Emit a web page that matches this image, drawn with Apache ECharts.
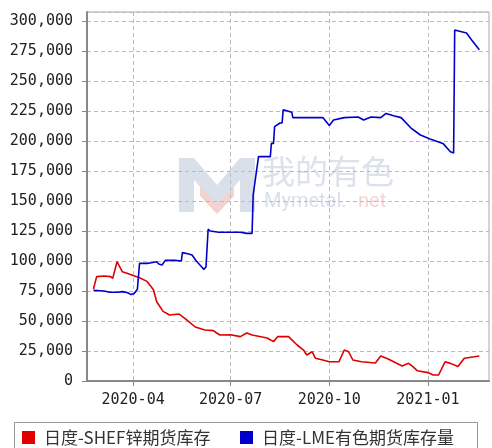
<!DOCTYPE html>
<html>
<head>
<meta charset="utf-8">
<script src="https://cdn.jsdelivr.net/npm/echarts@6/dist/echarts.min.js"></script>
<style>
  html, body { margin: 0; padding: 0; background: #fff; }
  #chart { width: 492px; height: 448px; }
</style>
</head>
<body>
<div id="chart"></div>
<script>
// 日度-SHEF锌期货库存
const shfeDates = ['2020-02-24','2020-02-27','2020-03-05','2020-03-11','2020-03-13','2020-03-17','2020-03-22','2020-03-27',
  '2020-04-01','2020-04-07','2020-04-14','2020-04-20','2020-04-23','2020-04-29','2020-05-05','2020-05-14','2020-05-21',
  '2020-05-29','2020-06-07','2020-06-15','2020-06-18','2020-06-21','2020-07-01','2020-07-10','2020-07-16','2020-07-21',
  '2020-08-04','2020-08-10','2020-08-14','2020-08-24','2020-09-01','2020-09-07','2020-09-10','2020-09-15','2020-09-18',
  '2020-09-25','2020-10-01','2020-10-10','2020-10-15','2020-10-19','2020-10-23','2020-10-31','2020-11-13','2020-11-18',
  '2020-11-25','2020-11-30','2020-12-08','2020-12-14','2020-12-18','2020-12-22','2021-01-01','2021-01-06','2021-01-11',
  '2021-01-17','2021-01-22','2021-01-29','2021-02-04','2021-02-18'];
const shfeValues = [76700,87000,87500,87000,85500,99400,91000,89500,
  88000,86000,83000,76000,66000,58000,55000,55800,51000,
  45000,42500,42000,40000,38300,38500,37000,40000,38300,
  35800,32800,37000,37000,30000,25800,21700,24400,19000,
  17500,16000,16000,25800,24400,17500,16000,15000,20800,
  18300,16000,12500,14700,12000,8600,7000,5000,5000,
  16000,14700,12000,19000,20800];

// 日度-LME有色期货库存量
const lmeDates = ['2020-02-24','2020-03-05','2020-03-10','2020-03-18','2020-03-22','2020-03-27','2020-03-30','2020-04-02',
  '2020-04-05','2020-04-06','2020-04-07','2020-04-14','2020-04-18','2020-04-23','2020-04-25','2020-04-28','2020-05-01',
  '2020-05-10','2020-05-16','2020-05-17','2020-05-22','2020-05-26','2020-05-30','2020-06-03','2020-06-06','2020-06-08',
  '2020-06-10','2020-06-12','2020-06-20','2020-07-01','2020-07-10','2020-07-16','2020-07-21','2020-07-22','2020-07-27',
  '2020-08-07','2020-08-08','2020-08-10','2020-08-11','2020-08-16','2020-08-18','2020-08-19','2020-08-23','2020-08-27',
  '2020-08-28','2020-09-25','2020-10-01','2020-10-05','2020-10-15','2020-10-28','2020-11-02','2020-11-09','2020-11-18',
  '2020-11-23','2020-11-30','2020-12-07','2020-12-16','2020-12-25','2021-01-03','2021-01-15','2021-01-22','2021-01-25',
  '2021-01-26','2021-02-06','2021-02-11','2021-02-18'];
const lmeValues = [75500,75000,74000,74000,74500,73500,72000,73000,
  76500,77000,98000,98000,98600,99400,97500,96700,100500,
  100500,100000,107000,106000,105000,100000,96000,93000,95000,
  126500,125000,124000,124000,124000,123000,123000,155000,187000,
  187000,198000,198000,212000,215000,215000,226000,225000,224000,
  219500,219500,213000,217500,219500,220000,217500,220000,219500,
  223000,221000,219500,211000,205000,201700,198000,191000,190000,
  292500,290000,284000,276000];

const xTicks = ['2020-04-01','2020-07-01','2020-10-01','2021-01-01'];
const names = ['日度-SHEF锌期货库存', '日度-LME有色期货库存量'];

const ts = s => Date.parse(s + 'T00:00:00Z');
const pad2 = n => (n < 10 ? '0' : '') + n;
const fmtMonth = v => { const d = new Date(v); return d.getUTCFullYear() + '-' + pad2(d.getUTCMonth() + 1); };
const pair = (ds, vs) => ds.map((d, i) => [ts(d), vs[i]]);

const chart = echarts.init(document.getElementById('chart'));
const monoFont = '"DejaVu Sans Mono", monospace';
const tickVals = xTicks.map(ts);

// one legend per item so each can sit where the original puts it
const legendBase = {
  top: 429, padding: 0,
  itemWidth: 13, itemHeight: 13, icon: 'rect',
  textStyle: { fontSize: 17, fontFamily: '"Noto Sans CJK SC"', color: '#333', padding: [0, 0, 0, 4] }
};

chart.setOption({
  animation: false,
  grid: {
    left: 87, right: 3, top: 12, bottom: 67,
    show: true, borderColor: '#aaa', borderWidth: 1
  },
  legend: [
    Object.assign({}, legendBase, { left: 22, data: [names[0]] }),
    Object.assign({}, legendBase, { left: 240, data: [names[1]] })
  ],
  xAxis: {
    type: 'value',
    min: ts('2020-02-18'), max: ts('2021-02-27'),
    axisLine: { lineStyle: { color: '#888', width: 2 } },
    axisTick: { show: true, length: 5, customValues: tickVals, lineStyle: { color: '#888' } },
    axisLabel: {
      customValues: tickVals,
      margin: 12,
      fontFamily: monoFont, fontSize: 15, color: '#222',
      formatter: fmtMonth
    },
    splitLine: { show: true, lineStyle: { color: '#bbb', type: [4, 3] } }
  },
  yAxis: {
    type: 'value',
    min: 0, max: 307500, interval: 25000,
    axisLine: { show: true, lineStyle: { color: '#888', width: 2 } },
    axisTick: { show: true, length: 5, lineStyle: { color: '#888' } },
    axisLabel: {
      showMaxLabel: false,
      margin: 14,
      fontFamily: monoFont, fontSize: 15, color: '#222',
      formatter: v => v.toLocaleString('en-US')
    },
    splitLine: { show: true, lineStyle: { color: '#bbb', type: [4, 3] } }
  },
  graphic: [
    { type: 'rect', z: 0, silent: true,
      shape: { x: 14.5, y: 422.5, width: 463, height: 40 },
      style: { fill: '#fff', stroke: '#999', lineWidth: 1 } },
    { type: 'polygon', z: 0, silent: true,
      shape: { points: [[179,158],[194,158],[217,185],[240,158],[255,158],[255,212],[240,212],[240,180],[217,206],[194,180],[194,212],[179,212]] },
      style: { fill: '#d9e0ea' } },
    { type: 'polygon', z: 0, silent: true,
      shape: { points: [[200,186],[217,204],[234,186],[234,196],[217,214],[200,196]] },
      style: { fill: '#f2d3cf' } },
    { type: 'text', z: 0, silent: true, left: 262, top: 155,
      style: { text: '我的有色', fontSize: 33, fontFamily: '"Noto Sans CJK SC"', fill: '#dbe2ec' } },
    { type: 'text', z: 0, silent: true, left: 264, top: 192,
      style: { text: 'Mymetal.', fontSize: 20, fontFamily: 'Roboto', fill: '#d8e0ea' } },
    { type: 'text', z: 0, silent: true, left: 358, top: 192,
      style: { text: 'net', fontSize: 20, fontFamily: 'Roboto', fill: '#f3d6d2' } }
  ],
  series: [
    {
      name: names[0], type: 'line', showSymbol: false,
      data: pair(shfeDates, shfeValues),
      itemStyle: { color: '#e00000' },
      lineStyle: { color: '#e00000', width: 1.6 }
    },
    {
      name: names[1], type: 'line', showSymbol: false,
      data: pair(lmeDates, lmeValues),
      itemStyle: { color: '#0000c8' },
      lineStyle: { color: '#0000c8', width: 1.6 }
    }
  ]
});
</script>
</body>
</html>
